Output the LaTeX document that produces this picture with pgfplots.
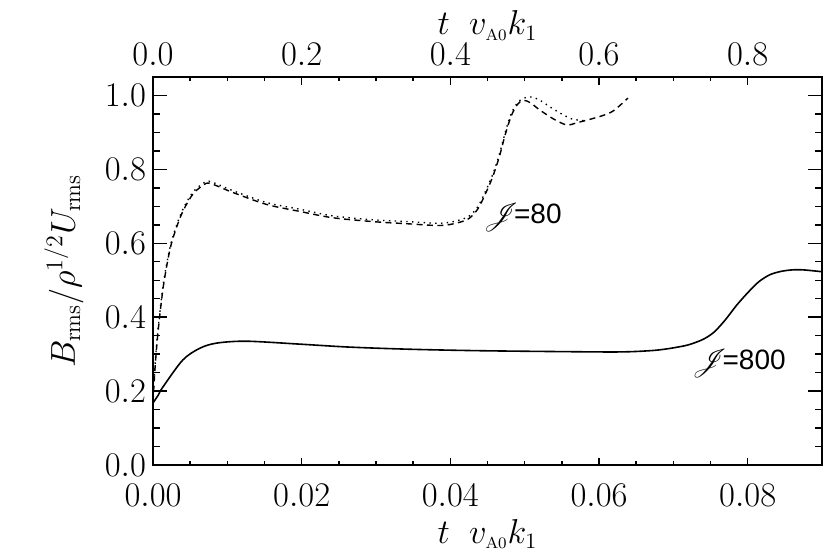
\documentclass[border=0pt]{standalone}
\usepackage{fontspec}
\setsansfont{Liberation Sans}
\usepackage{mathrsfs}
\usepackage{pgfplots}
\pgfplotsset{compat=1.18}
\begin{document}
\begin{tikzpicture}
\pgfplotsset{
  common/.style={
    scale only axis, width=334.5pt, height=194pt,
    ymin=0, ymax=1.05,
    tick align=inside,
    tick style={black, line width=0.7pt},
    axis line style={line width=1pt},
    ticklabel style={font=\fontsize{16}{18}\selectfont},
  }
}
% bottom axis (J=800)
\begin{axis}[common, clip=false,
  xmin=0, xmax=0.09,
  xtick={0,0.02,0.04,0.06,0.08}, minor x tick num=3,
  scaled x ticks=false,
  xtick pos=left, xticklabel pos=left,
  ytick=\empty,
  major tick length=3.75pt, minor tick length=2pt,
  xticklabel style={/pgf/number format/.cd, fixed, fixed zerofill, precision=2, /tikz/.cd, anchor=north, yshift=-6.1pt},
]
\coordinate (bl) at (rel axis cs:0,0);
\coordinate (tr) at (rel axis cs:1,1);
\node[anchor=base, font=\fontsize{16}{18}\selectfont] at ([yshift=-39pt]rel axis cs:0.5,0) {$t\;\; v_{\mathrm{\scriptscriptstyle A0}}k_1$};
\node[anchor=base, font=\fontsize{16}{18}\selectfont] at ([yshift=21pt]rel axis cs:0.5,1) {$t\;\; v_{\mathrm{\scriptscriptstyle A0}}k_1$};
\node[anchor=base, rotate=90, font=\fontsize{16.5}{18}\selectfont] at ([xshift=-39pt]rel axis cs:0,0.5) {$B_{\rm rms}/\rho^{1/2}U_{\rm rms}$};
\addplot[black, line width=0.8pt, smooth] coordinates {
(0,0.168) (0.0007,0.189) (0.0013,0.21) (0.004,0.284) (0.0063,0.316) (0.0086,0.330)
(0.0126,0.335) (0.0198,0.327) (0.0265,0.319) (0.035,0.313) (0.045,0.309)
(0.0599,0.306) (0.064,0.3065) (0.067,0.3095) (0.0685,0.3125) (0.070,0.317) (0.072,0.325) (0.074,0.340)
(0.0755,0.360) (0.077,0.393) (0.0785,0.432) (0.080,0.466) (0.0815,0.496) (0.083,0.515)
(0.0845,0.524) (0.086,0.528) (0.0875,0.528) (0.09,0.523)
};
\node[font=\fontsize{14}{16}\selectfont, inner sep=0pt] at (axis cs:0.0788,0.276) {$\mathscr{J}$\kern-2.5pt\textsf{=800}};
\node[font=\fontsize{14}{16}\selectfont, inner sep=0pt] at (axis cs:0.0497,0.671) {$\mathscr{J}$\kern-2.5pt\textsf{=80}};
\end{axis}
% top axis (J=80)
\begin{axis}[common,
  xmin=0, xmax=0.9,
  xtick={0,0.2,0.4,0.6,0.8}, minor x tick num=3,
  xtick pos=right, xticklabel pos=right,
  ytick=\empty,
  major tick length=4pt, minor tick length=2.2pt,
  xticklabel style={/pgf/number format/.cd, fixed, fixed zerofill, precision=1, /tikz/.cd, anchor=south, yshift=2pt},
]
\addplot[black, line width=0.7pt, smooth, dash pattern=on 3pt off 2.2pt] coordinates {
(0,0.17) (0.003,0.27) (0.007,0.365) (0.014,0.485) (0.023,0.585) (0.032,0.645) (0.041,0.69)
(0.054,0.734) (0.068,0.758) (0.075,0.763) (0.09,0.752) (0.108,0.737) (0.153,0.705) (0.198,0.686) (0.242,0.669)
(0.30,0.658) (0.341,0.653) (0.386,0.648) (0.409,0.655) (0.425,0.667) (0.437,0.693) (0.447,0.733)
(0.457,0.78) (0.466,0.835) (0.474,0.895) (0.482,0.945) (0.490,0.975) (0.498,0.987) (0.508,0.980) (0.52,0.961)
(0.540,0.935) (0.557,0.920) (0.570,0.926) (0.601,0.943) (0.619,0.958) (0.639,0.993)
};
\addplot[black, line width=0.7pt, smooth, dash pattern=on 0.7pt off 2.2pt] coordinates {
(0,0.18) (0.003,0.28) (0.007,0.372) (0.014,0.492) (0.023,0.59) (0.032,0.65) (0.041,0.695)
(0.054,0.739) (0.068,0.763) (0.075,0.768) (0.09,0.757) (0.108,0.742) (0.153,0.71) (0.198,0.692) (0.242,0.674)
(0.30,0.663) (0.341,0.659) (0.386,0.654) (0.409,0.661) (0.425,0.673) (0.437,0.699) (0.447,0.739)
(0.457,0.786) (0.466,0.841) (0.474,0.901) (0.482,0.951) (0.492,0.984) (0.505,0.996) (0.518,0.990)
(0.534,0.969) (0.548,0.952) (0.564,0.936) (0.58,0.932)
};
\end{axis}
% y ticks
\begin{axis}[common,
  xmin=0, xmax=0.09, xtick=\empty,
  ytick={0,0.2,0.4,0.6,0.8,1.0}, minor y tick num=3,
  ytick pos=both, yticklabel pos=left,
  major tick length=7pt, minor tick length=3.5pt,
  yticklabel style={/pgf/number format/.cd, fixed, fixed zerofill, precision=1},
]
\end{axis}
\pgfresetboundingbox
\path ([xshift=-76.5pt,yshift=-44.5pt]bl) rectangle ([xshift=4pt,yshift=38.5pt]tr);
\end{tikzpicture}
\end{document}
